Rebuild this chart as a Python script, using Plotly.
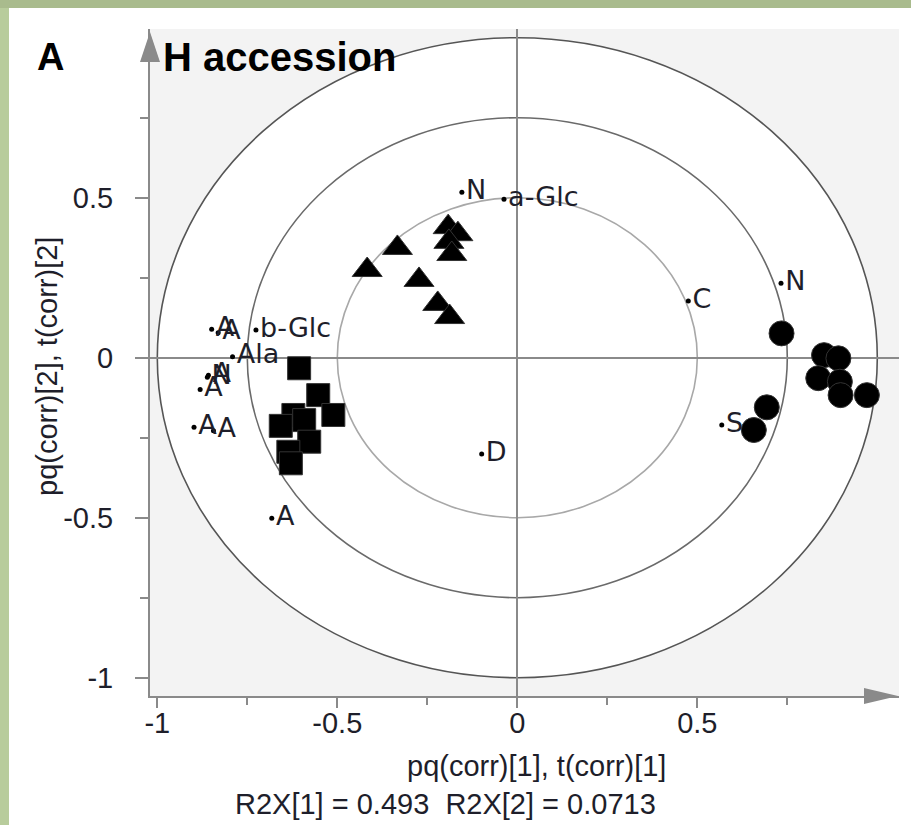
import plotly.graph_objects as go

# ---------------- data ----------------
circle_x = [0.734, 0.852, 0.892, 0.836, 0.896, 0.898, 0.971, 0.693, 0.657]
circle_y = [0.076, 0.008, -0.002, -0.064, -0.075, -0.117, -0.117, -0.155, -0.226]

square_x = [-0.606, -0.553, -0.511, -0.622, -0.592, -0.657, -0.578, -0.636, -0.629]
square_y = [-0.033, -0.117, -0.179, -0.179, -0.195, -0.213, -0.2625, -0.294, -0.330]

triangle_x = [-0.417, -0.333, -0.273, -0.221, -0.188, -0.192, -0.165, -0.190, -0.182]
triangle_y = [0.274, 0.343, 0.243, 0.168, 0.127, 0.408, 0.386, 0.362, 0.324]

loading_labels = ["N", "a-Glc", "C", "N", "S", "D", "A", "b-Glc", "A", "A",
                  "Ala", "A", "N", "A", "A", "A"]
loading_x = [-0.154, -0.037, 0.475, 0.7325, 0.568, -0.099, -0.682, -0.726, -0.849, -0.831,
             -0.791, -0.858, -0.861, -0.881, -0.898, -0.844]
loading_y = [0.517, 0.495, 0.177, 0.2325, -0.210, -0.301, -0.502, 0.0866, 0.0887, 0.078,
             0.003, -0.055, -0.061, -0.099, -0.2175, -0.228]

circle_radii = [1.0, 0.75, 0.5]
major_ticks = [-1, -0.5, 0, 0.5]
minor_ticks = [-0.75, -0.25, 0.25, 0.75]
tick_text = ["-1", "-0.5", "0", "0.5"]

x_title = "pq(corr)[1], t(corr)[1]"
y_title = "pq(corr)[2], t(corr)[2]"
footer = "R2X[1] = 0.493&#160;&#160;R2X[2] = 0.0713"
panel_letter = "A"
panel_title = "H accession"

# ---------------- layout geometry (pixels) ----------------
W, H = 911, 825
ML, MR, MT, MB = 150, 12, 29, 129
PW, PH = W - ML - MR, H - MT - MB


def px(x):
    return (x - ML) / PW


def py(y):
    return (H - MB - y) / PH


AXIS_C = "#8a8a8a"
TEXT_C = "#1e1e2a"
FONT = "Arial, Liberation Sans, sans-serif"

fig = go.Figure()

fig.add_trace(go.Scatter(
    x=loading_x, y=loading_y, mode="markers+text", text=loading_labels,
    textposition="middle right",
    textfont=dict(family="DejaVu Sans, Verdana, sans-serif", size=27, color=TEXT_C),
    marker=dict(size=5, color="black"), hoverinfo="skip", showlegend=False))

fig.add_trace(go.Scatter(
    x=triangle_x, y=triangle_y, mode="markers",
    marker=dict(symbol="triangle-up", size=26, color="black",
                line=dict(width=1, color="#333")), showlegend=False))
fig.add_trace(go.Scatter(
    x=square_x, y=square_y, mode="markers",
    marker=dict(symbol="square", size=23, color="black",
                line=dict(width=1, color="#333")), showlegend=False))
fig.add_trace(go.Scatter(
    x=circle_x, y=circle_y, mode="markers",
    marker=dict(symbol="circle", size=25, color="black",
                line=dict(width=1, color="#333")), showlegend=False))

shapes = []
# white interior of the unit circle
shapes.append(dict(type="circle", xref="x", yref="y", x0=-1, x1=1, y0=-1, y1=1,
                   fillcolor="white", line=dict(width=0), layer="below"))
ring_colors = ["#555555", "#6a6a6a", "#a8a8a8"]
for r, c in zip(circle_radii, ring_colors):
    shapes.append(dict(type="circle", xref="x", yref="y", x0=-r, x1=r, y0=-r, y1=r,
                       line=dict(color=c, width=1.6), layer="below"))

# green frame strips
shapes.append(dict(type="rect", xref="paper", yref="paper",
                   x0=px(0), x1=px(9), y0=py(H), y1=py(0),
                   fillcolor="#b8cc9c", line=dict(width=0), layer="above"))
shapes.append(dict(type="rect", xref="paper", yref="paper",
                   x0=px(0), x1=px(W), y0=py(8), y1=py(0),
                   fillcolor="#a9bb8d", line=dict(width=0), layer="above"))

# arrow heads
xa_tip, xa_base, xa_half = 898, 864, 8
ya_tip, ya_base, ya_half = 32, 62, 10
yax = H - MB
shapes.append(dict(type="path", xref="paper", yref="paper",
                   path=f"M {px(xa_tip)},{py(yax)} L {px(xa_base)},{py(yax - xa_half)} "
                        f"L {px(xa_base)},{py(yax + xa_half)} Z",
                   fillcolor=AXIS_C, line=dict(width=0), layer="above"))
shapes.append(dict(type="path", xref="paper", yref="paper",
                   path=f"M {px(ML)},{py(ya_tip)} L {px(ML - ya_half)},{py(ya_base)} "
                        f"L {px(ML + ya_half)},{py(ya_base)} Z",
                   fillcolor=AXIS_C, line=dict(width=0), layer="above"))

annotations = [
    dict(text=f"<b>{panel_letter}</b>", xref="paper", yref="paper", x=px(35), y=py(57),
         xanchor="left", yanchor="middle", showarrow=False,
         font=dict(family=FONT, size=38, color="black")),
    dict(text=f"<b>{panel_title}</b>", xref="paper", yref="paper", x=px(161), y=py(57),
         xanchor="left", yanchor="middle", showarrow=False,
         font=dict(family=FONT, size=40, color="black")),
    dict(text=x_title, xref="paper", yref="paper", x=px(536), y=py(766),
         xanchor="center", yanchor="middle", showarrow=False,
         font=dict(family=FONT, size=29, color=TEXT_C)),
    dict(text=y_title, xref="paper", yref="paper", x=px(47), y=py(366),
         xanchor="center", yanchor="middle", showarrow=False, textangle=-90,
         font=dict(family=FONT, size=29, color=TEXT_C)),
    dict(text=footer, xref="paper", yref="paper", x=px(445), y=py(804),
         xanchor="center", yanchor="middle", showarrow=False,
         font=dict(family=FONT, size=29, color=TEXT_C)),
]

x_range = [(ML - 517.3) / 360, (W - MR - 517.3) / 360]
y_range = [-(H - MB - 357.7) / 320, (357.7 - MT) / 320]

axis_common = dict(
    showgrid=False, zeroline=True, zerolinecolor=AXIS_C, zerolinewidth=2,
    showline=True, linecolor=AXIS_C, linewidth=2, mirror=False,
    ticks="outside", tickcolor=AXIS_C, tickwidth=2,
    tickmode="array", tickvals=major_ticks, ticktext=tick_text,
    tickfont=dict(family=FONT, size=29, color=TEXT_C),
    fixedrange=True,
)

fig.update_layout(
    width=W, height=H,
    margin=dict(l=ML, r=MR, t=MT, b=MB, pad=0),
    paper_bgcolor="white", plot_bgcolor="#f3f3f3",
    xaxis=dict(range=x_range, ticklen=10, ticklabelstandoff=-10,
               minor=dict(tickvals=minor_ticks, ticks="outside", ticklen=7,
                          tickcolor=AXIS_C, tickwidth=2),
               **axis_common),
    yaxis=dict(range=y_range, ticklen=13, ticklabelstandoff=16,
               minor=dict(tickvals=minor_ticks, ticks="outside", ticklen=8,
                          tickcolor=AXIS_C, tickwidth=2),
               **axis_common),
    shapes=shapes, annotations=annotations, showlegend=False,
)

fig.write_html("out.html")
